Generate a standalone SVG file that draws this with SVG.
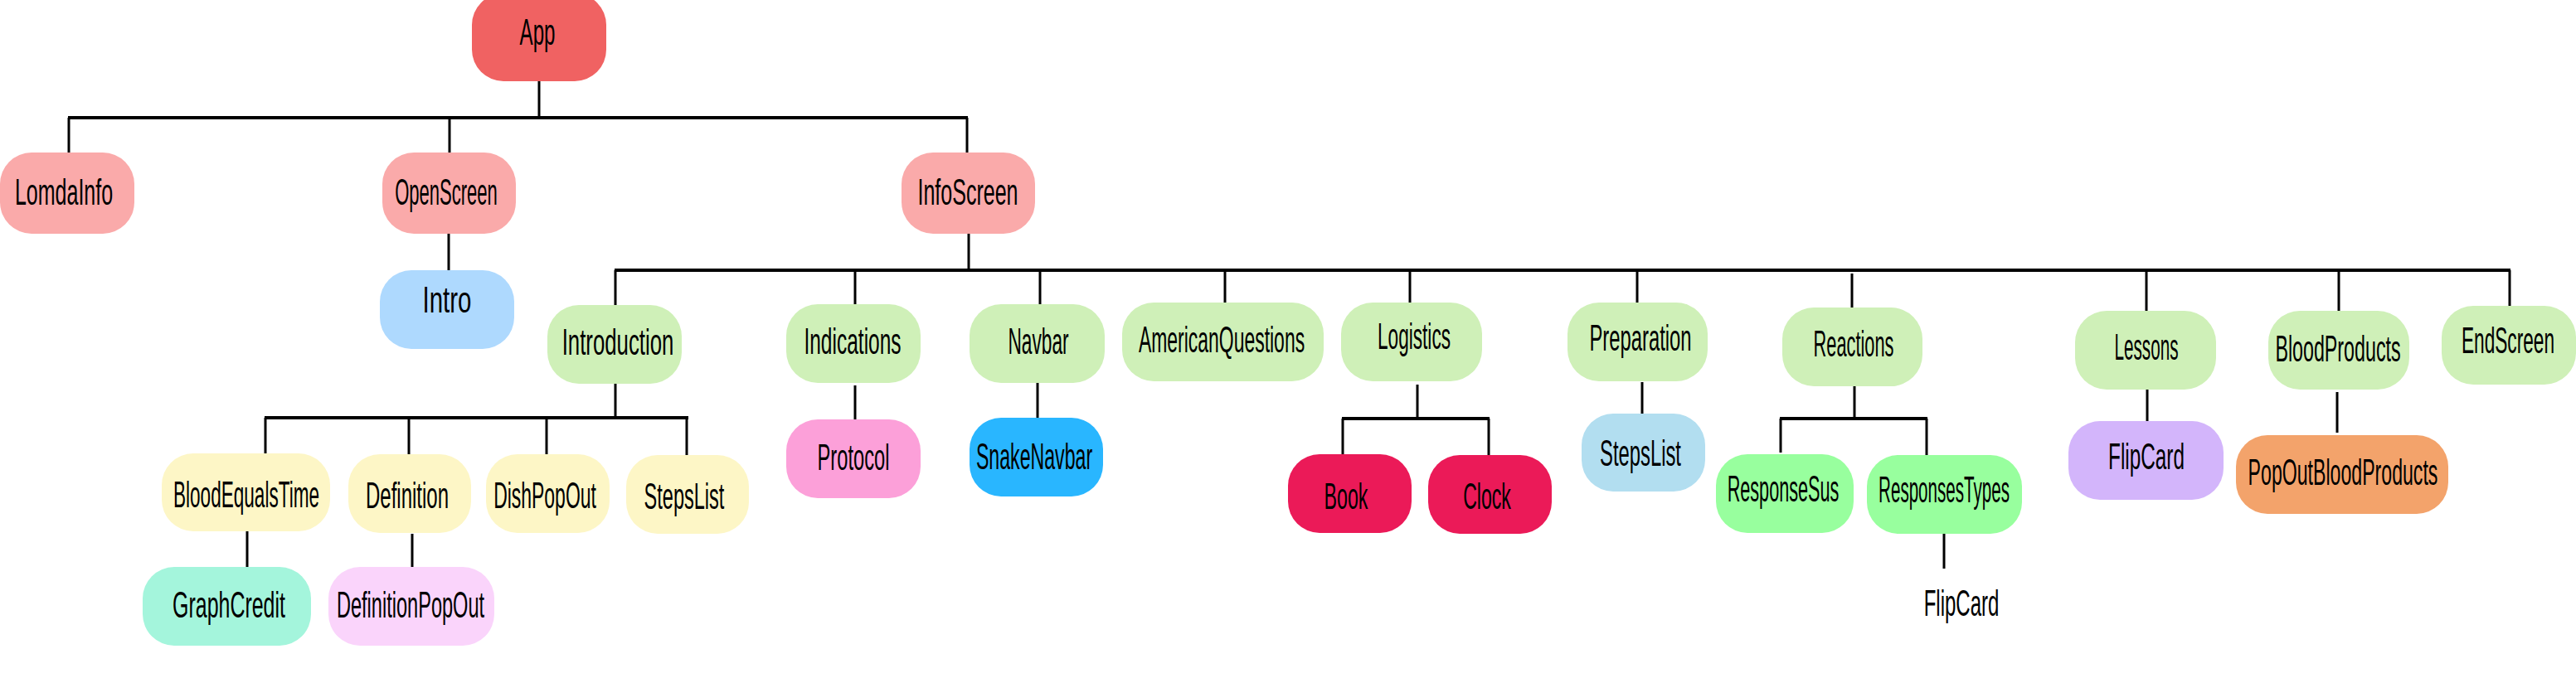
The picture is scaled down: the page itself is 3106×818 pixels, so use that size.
<svg xmlns="http://www.w3.org/2000/svg" width="3106" height="818" viewBox="0 0 3106 818">
<style>
.t{font-family:"Liberation Sans",Arial,sans-serif;font-size:45px;fill:#000;text-anchor:middle}
.c line{stroke:#000;stroke-width:3}
.c line.b{stroke-width:4}
</style>
<rect width="3106" height="818" fill="#fff"/>
<g class="c" id="connectors">
<line x1="650" y1="98" x2="650" y2="142"/>
<line class="b" x1="82" y1="142" x2="1167" y2="142"/>
<line x1="83" y1="142" x2="83" y2="184"/>
<line x1="542" y1="142" x2="542" y2="184"/>
<line x1="1166" y1="142" x2="1166" y2="184"/>
<line x1="541" y1="282" x2="541" y2="326"/>
<line x1="1168" y1="282" x2="1168" y2="326"/>
<line class="b" x1="741" y1="326" x2="3027" y2="326"/>
<line x1="742" y1="326" x2="742" y2="368"/>
<line x1="1031" y1="326" x2="1031" y2="367"/>
<line x1="1254" y1="326" x2="1254" y2="367"/>
<line x1="1477" y1="326" x2="1477" y2="365"/>
<line x1="1700" y1="326" x2="1700" y2="365"/>
<line x1="1974" y1="326" x2="1974" y2="365"/>
<line x1="2233" y1="330" x2="2233" y2="371"/>
<line x1="2588" y1="326" x2="2588" y2="375"/>
<line x1="2820" y1="326" x2="2820" y2="375"/>
<line x1="3026" y1="326" x2="3026" y2="369"/>
<line x1="742" y1="463" x2="742" y2="504"/>
<line class="b" x1="319" y1="504" x2="830" y2="504"/>
<line x1="320" y1="504" x2="320" y2="547"/>
<line x1="493" y1="504" x2="493" y2="548"/>
<line x1="659" y1="504" x2="659" y2="548"/>
<line x1="828" y1="504" x2="828" y2="549"/>
<line x1="298" y1="641" x2="298" y2="684"/>
<line x1="497" y1="644" x2="497" y2="684"/>
<line x1="1031" y1="465" x2="1031" y2="506"/>
<line x1="1251" y1="462" x2="1251" y2="504"/>
<line x1="1709" y1="464" x2="1709" y2="505"/>
<line class="b" x1="1618" y1="505" x2="1796" y2="505"/>
<line x1="1619" y1="505" x2="1619" y2="548"/>
<line x1="1795" y1="505" x2="1795" y2="549"/>
<line x1="1980" y1="461" x2="1980" y2="499"/>
<line x1="2236" y1="466" x2="2236" y2="505"/>
<line class="b" x1="2146" y1="505" x2="2324" y2="505"/>
<line x1="2147" y1="505" x2="2147" y2="546"/>
<line x1="2323" y1="505" x2="2323" y2="549"/>
<line x1="2344" y1="644" x2="2344" y2="686"/>
<line x1="2589" y1="470" x2="2589" y2="508"/>
<line x1="2818" y1="473" x2="2818" y2="522"/>
</g>
<g id="App"><rect x="569" y="-8" width="162" height="106" rx="38" ry="38" fill="#f06262"/><text class="t" transform="translate(648 54) scale(0.55 1)" textLength="78" lengthAdjust="spacingAndGlyphs">App</text></g>
<g id="LomdaInfo"><rect x="0" y="184" width="162" height="98" rx="38" ry="38" fill="#faaaaa"/><text class="t" transform="translate(77 247) scale(0.55 1)" textLength="215" lengthAdjust="spacingAndGlyphs">LomdaInfo</text></g>
<g id="OpenScreen"><rect x="461" y="184" width="161" height="98" rx="38" ry="38" fill="#faaaaa"/><text class="t" transform="translate(538 247) scale(0.55 1)" textLength="225" lengthAdjust="spacingAndGlyphs">OpenScreen</text></g>
<g id="InfoScreen"><rect x="1087" y="184" width="161" height="98" rx="38" ry="38" fill="#faaaaa"/><text class="t" transform="translate(1167 247) scale(0.55 1)" textLength="220" lengthAdjust="spacingAndGlyphs">InfoScreen</text></g>
<g id="Intro"><rect x="458" y="326" width="162" height="95" rx="38" ry="38" fill="#aed9fe"/><text class="t" transform="translate(539 377) scale(0.55 1)" textLength="107" lengthAdjust="spacingAndGlyphs">Intro</text></g>
<g id="Introduction"><rect x="660" y="368" width="162" height="95" rx="38" ry="38" fill="#cff0b8"/><text class="t" transform="translate(745 428) scale(0.55 1)" textLength="245" lengthAdjust="spacingAndGlyphs">Introduction</text></g>
<g id="Indications"><rect x="948" y="367" width="162" height="95" rx="38" ry="38" fill="#cff0b8"/><text class="t" transform="translate(1028 427) scale(0.55 1)" textLength="213" lengthAdjust="spacingAndGlyphs">Indications</text></g>
<g id="Navbar"><rect x="1169" y="367" width="163" height="95" rx="38" ry="38" fill="#cff0b8"/><text class="t" transform="translate(1252 427) scale(0.55 1)" textLength="133" lengthAdjust="spacingAndGlyphs">Navbar</text></g>
<g id="AmericanQuestions"><rect x="1353" y="365" width="243" height="95" rx="38" ry="38" fill="#cff0b8"/><text class="t" transform="translate(1473 425) scale(0.55 1)" textLength="364" lengthAdjust="spacingAndGlyphs">AmericanQuestions</text></g>
<g id="Logistics"><rect x="1617" y="365" width="170" height="95" rx="38" ry="38" fill="#cff0b8"/><text class="t" transform="translate(1705 421) scale(0.55 1)" textLength="160" lengthAdjust="spacingAndGlyphs">Logistics</text></g>
<g id="Preparation"><rect x="1890" y="365" width="169" height="95" rx="38" ry="38" fill="#cff0b8"/><text class="t" transform="translate(1978 423) scale(0.55 1)" textLength="224" lengthAdjust="spacingAndGlyphs">Preparation</text></g>
<g id="Reactions"><rect x="2149" y="371" width="169" height="95" rx="38" ry="38" fill="#cff0b8"/><text class="t" transform="translate(2235 430) scale(0.55 1)" textLength="176" lengthAdjust="spacingAndGlyphs">Reactions</text></g>
<g id="Lessons"><rect x="2502" y="375" width="170" height="95" rx="38" ry="38" fill="#cff0b8"/><text class="t" transform="translate(2588 434) scale(0.55 1)" textLength="140" lengthAdjust="spacingAndGlyphs">Lessons</text></g>
<g id="BloodProducts"><rect x="2735" y="375" width="170" height="95" rx="38" ry="38" fill="#cff0b8"/><text class="t" transform="translate(2819 436) scale(0.55 1)" textLength="275" lengthAdjust="spacingAndGlyphs">BloodProducts</text></g>
<g id="EndScreen"><rect x="2944" y="369" width="162" height="95" rx="38" ry="38" fill="#cff0b8"/><text class="t" transform="translate(3024 426) scale(0.55 1)" textLength="204" lengthAdjust="spacingAndGlyphs">EndScreen</text></g>
<g id="BloodEqualsTime"><rect x="195" y="547" width="203" height="94" rx="38" ry="38" fill="#fdf6c6"/><text class="t" transform="translate(297 612) scale(0.55 1)" textLength="320" lengthAdjust="spacingAndGlyphs">BloodEqualsTime</text></g>
<g id="Definition"><rect x="420" y="548" width="148" height="95" rx="38" ry="38" fill="#fdf6c6"/><text class="t" transform="translate(491 613) scale(0.55 1)" textLength="182" lengthAdjust="spacingAndGlyphs">Definition</text></g>
<g id="DishPopOut"><rect x="586" y="548" width="149" height="95" rx="38" ry="38" fill="#fdf6c6"/><text class="t" transform="translate(657 613) scale(0.55 1)" textLength="225" lengthAdjust="spacingAndGlyphs">DishPopOut</text></g>
<g id="StepsList"><rect x="755" y="549" width="148" height="95" rx="38" ry="38" fill="#fdf6c6"/><text class="t" transform="translate(825 614) scale(0.55 1)" textLength="176" lengthAdjust="spacingAndGlyphs">StepsList</text></g>
<g id="GraphCredit"><rect x="172" y="684" width="203" height="95" rx="38" ry="38" fill="#a4f5dc"/><text class="t" transform="translate(276 745) scale(0.55 1)" textLength="247" lengthAdjust="spacingAndGlyphs">GraphCredit</text></g>
<g id="DefinitionPopOut"><rect x="396" y="684" width="200" height="95" rx="38" ry="38" fill="#fad4fb"/><text class="t" transform="translate(495 745) scale(0.55 1)" textLength="324" lengthAdjust="spacingAndGlyphs">DefinitionPopOut</text></g>
<g id="Protocol"><rect x="948" y="506" width="162" height="95" rx="38" ry="38" fill="#fca0d9"/><text class="t" transform="translate(1029 567) scale(0.55 1)" textLength="158" lengthAdjust="spacingAndGlyphs">Protocol</text></g>
<g id="SnakeNavbar"><rect x="1169" y="504" width="161" height="95" rx="38" ry="38" fill="#29b6ff"/><text class="t" transform="translate(1247 566) scale(0.55 1)" textLength="255" lengthAdjust="spacingAndGlyphs">SnakeNavbar</text></g>
<g id="Book"><rect x="1553" y="548" width="149" height="95" rx="38" ry="38" fill="#eb1a58"/><text class="t" transform="translate(1623 614) scale(0.55 1)" textLength="96" lengthAdjust="spacingAndGlyphs">Book</text></g>
<g id="Clock"><rect x="1722" y="549" width="149" height="95" rx="38" ry="38" fill="#eb1a58"/><text class="t" transform="translate(1793 614) scale(0.55 1)" textLength="105" lengthAdjust="spacingAndGlyphs">Clock</text></g>
<g id="StepsList2"><rect x="1907" y="499" width="149" height="94" rx="38" ry="38" fill="#b2def0"/><text class="t" transform="translate(1978 562) scale(0.55 1)" textLength="178" lengthAdjust="spacingAndGlyphs">StepsList</text></g>
<g id="ResponseSus"><rect x="2069" y="548" width="166" height="95" rx="38" ry="38" fill="#98ff9e"/><text class="t" transform="translate(2150 605) scale(0.55 1)" textLength="245" lengthAdjust="spacingAndGlyphs">ResponseSus</text></g>
<g id="ResponsesTypes"><rect x="2251" y="549" width="187" height="95" rx="38" ry="38" fill="#98ff9e"/><text class="t" transform="translate(2344 606) scale(0.55 1)" textLength="287" lengthAdjust="spacingAndGlyphs">ResponsesTypes</text></g>
<g id="FlipCardText"><text class="t" transform="translate(2365 743) scale(0.55 1)" textLength="165" lengthAdjust="spacingAndGlyphs">FlipCard</text></g>
<g id="FlipCard"><rect x="2494" y="508" width="187" height="95" rx="38" ry="38" fill="#d3b5fb"/><text class="t" transform="translate(2588 566) scale(0.55 1)" textLength="167" lengthAdjust="spacingAndGlyphs">FlipCard</text></g>
<g id="PopOutBloodProducts"><rect x="2696" y="525" width="256" height="95" rx="38" ry="38" fill="#f3a36b"/><text class="t" transform="translate(2825 585) scale(0.55 1)" textLength="416" lengthAdjust="spacingAndGlyphs">PopOutBloodProducts</text></g>
</svg>
